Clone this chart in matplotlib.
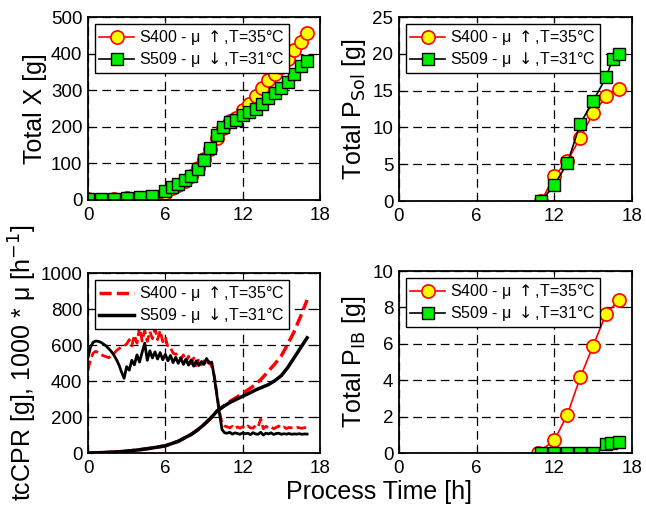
import numpy as np
import matplotlib
matplotlib.use('Agg')
import matplotlib.pyplot as plt

plt.rcParams['font.family'] = ['Liberation Sans', 'DejaVu Sans']

LABEL_S400 = 'S400 - \u03bc $\\uparrow$,T=35\u00b0C'
LABEL_S509 = 'S509 - \u03bc $\\downarrow$,T=31\u00b0C'

# total biomass X [g]
t_x = [0, 1, 2, 3, 4, 5, 6, 6.5, 7, 7.5, 8, 8.5, 9, 9.5, 10, 10.5, 11, 11.5,
       12, 12.5, 13, 13.5, 14, 14.5, 15, 15.5, 16, 16.5, 17]
x_s400 = [2, 1, 3, 5, 6, 9, 20, 33, 42, 52, 65, 88, 112, 140, 170, 198, 215, 225,
          245, 262, 283, 306, 328, 345, 363, 385, 410, 433, 455]
x_s509 = [2, 2, 4, 6, 9, 10, 25, 35, 44, 54, 65, 85, 110, 142, 178, 200, 212, 218,
          232, 240, 248, 262, 278, 292, 306, 322, 345, 365, 380]

# soluble product [g]
t_sol = [11, 12, 13, 14, 15, 16, 17]
sol_s400 = [0, 3.4, 5.4, 8.6, 11.9, 14.2, 15.2]
t_sol_509 = [11, 12, 13, 14, 15, 16, 16.5, 17]
sol_s509 = [0, 2.2, 5.1, 10.5, 13.6, 16.8, 19.3, 20.0]

# inclusion body product [g]
t_ib_400 = [10.7, 12, 13, 14, 15, 16, 17]
ib_s400 = [0, 0.7, 2.1, 4.15, 5.9, 7.65, 8.4]
t_ib_509 = [11, 12, 13, 14, 15, 16, 16.4, 17]
ib_s509 = [0, 0, 0, 0, 0, 0.5, 0.55, 0.6]

# tcCPR [g]
t_cpr = [0, 1, 2, 3, 4, 5, 6, 7, 8, 8.5, 9, 9.5, 10, 10.5, 11, 11.5, 12, 12.5,
         13, 13.5, 14, 14.5, 15, 15.5, 16, 16.5, 17]
cpr_s400 = [0, 2, 5, 10, 18, 28, 40, 65, 103, 128, 158, 192, 232, 260, 286, 308,
            332, 355, 380, 415, 455, 495, 540, 605, 675, 760, 850]
cpr_s509 = [0, 2, 5, 10, 18, 28, 40, 65, 103, 128, 158, 192, 232, 258, 280, 298,
            315, 332, 350, 365, 380, 402, 430, 475, 530, 585, 640]

# 1000 * mu [1/h], sampled every 0.2 h from 0 to 17
t_mu = np.linspace(0, 17, 86)
mu_s400 = [460, 520, 555, 565, 558, 548, 540, 535, 530, 538,
           552, 568, 580, 588, 596, 605, 630, 595, 655, 610,
           700, 622, 680, 620, 675, 635, 690, 630, 680, 618,
           645, 588, 585, 555, 548, 552, 522, 545, 505, 538,
           495, 528, 485, 522, 490, 512, 486, 508, 480, 430,
           330, 230, 165, 150, 145, 140, 148, 135, 145, 138,
           146, 136, 150, 140, 138, 152, 145, 190, 135, 148,
           140, 146, 135, 142, 150, 138, 144, 136, 142, 140,
           138, 142, 140, 137, 141, 140]
mu_s509 = [530, 590, 615, 622, 620, 615, 605, 595, 580, 565,
           545, 520, 490, 450, 415, 480, 460, 515, 490, 545,
           505, 560, 610, 515, 568, 528, 562, 522, 558, 518,
           548, 512, 542, 502, 532, 498, 528, 492, 522, 488,
           518, 482, 512, 486, 508, 492, 525, 500, 505, 420,
           320, 220, 130, 112, 110, 115, 105, 112, 108, 104,
           112, 107, 110, 102, 113, 106, 104, 115, 100, 110,
           106, 112, 103, 108, 110, 104, 107, 105, 108, 104,
           106, 105, 107, 104, 106, 105]

W, H = 646, 507
fig = plt.figure(figsize=(W / 100, H / 100), dpi=100)


def make_axes(l, t, r, b):
    return fig.add_axes([l / W, 1 - b / H, (r - l) / W, (b - t) / H])


ax_x = make_axes(88, 17, 320, 200)
ax_sol = make_axes(399, 17, 632, 201)
ax_cpr = make_axes(88, 273, 320, 453)
ax_ib = make_axes(399, 271, 632, 453)

circ = dict(marker='o', color='red', mfc='#ffff00', mec='red', ms=9.5, mew=1.2, lw=1.2)
sq = dict(marker='s', color='black', mfc='#00ee00', mec='black', ms=8, mew=1.0, lw=1.2)

ax_x.plot(t_x, x_s400, label=LABEL_S400, **circ)
ax_x.plot(t_x, x_s509, label=LABEL_S509, **sq)

ax_sol.plot(t_sol, sol_s400, label=LABEL_S400, **circ)
ax_sol.plot(t_sol_509, sol_s509, label=LABEL_S509, **sq)

ax_ib.plot(t_ib_400, ib_s400, label=LABEL_S400, **circ)
ax_ib.plot(t_ib_509, ib_s509, label=LABEL_S509, **sq)

ax_cpr.plot(t_mu, mu_s400, color='red', lw=2.0, ls=(0, (3.5, 1.5)))
ax_cpr.plot(t_cpr, cpr_s400, color='red', lw=2.5, ls=(0, (3.5, 1.5)), label=LABEL_S400)
ax_cpr.plot(t_mu, mu_s509, color='black', lw=2.0)
ax_cpr.plot(t_cpr, cpr_s509, color='black', lw=2.5, label=LABEL_S509)

limits = [(ax_x, 500, 100), (ax_sol, 25, 5), (ax_cpr, 1000, 200), (ax_ib, 10, 2)]
for ax, ymax, step in limits:
    ax.set_xlim(0, 18)
    ax.set_ylim(0, ymax)
    ax.set_xticks([0, 6, 12, 18])
    ax.set_yticks(np.arange(0, ymax + step / 2, step))
    ax.grid(True, color='black', ls=(0, (7, 4)), lw=0.9)
    ax.set_axisbelow(True)
    ax.tick_params(direction='in', length=4, labelsize=13.5, top=True, right=True)
    ax.tick_params(axis='x', pad=5)
    ax.tick_params(axis='y', pad=4)
    for sp in ax.spines.values():
        sp.set_linewidth(1.3)
    leg = ax.legend(loc='upper left', fontsize=11.5, fancybox=False, framealpha=1,
                    edgecolor='black', borderaxespad=0.45, handlelength=2.2,
                    handletextpad=0.3, borderpad=0.25, labelspacing=0.2)
    leg.get_frame().set_linewidth(1.0)

ax_x.set_ylabel('Total X [g]', fontsize=18, labelpad=3)
ax_sol.set_ylabel('Total P$_{\\mathrm{Sol}}$ [g]', fontsize=18, labelpad=3)
ax_ib.set_ylabel('Total P$_{\\mathrm{IB}}$ [g]', fontsize=18, labelpad=3)
ax_cpr.set_ylabel('tcCPR [g], 1000 * \u03bc [h$^{\\mathrm{-1}}$]', fontsize=18, labelpad=1)

fig.text(379 / W, 1 - 492 / H, 'Process Time [h]', fontsize=18, ha='center', va='center')

fig.savefig('out.png', dpi=100)
